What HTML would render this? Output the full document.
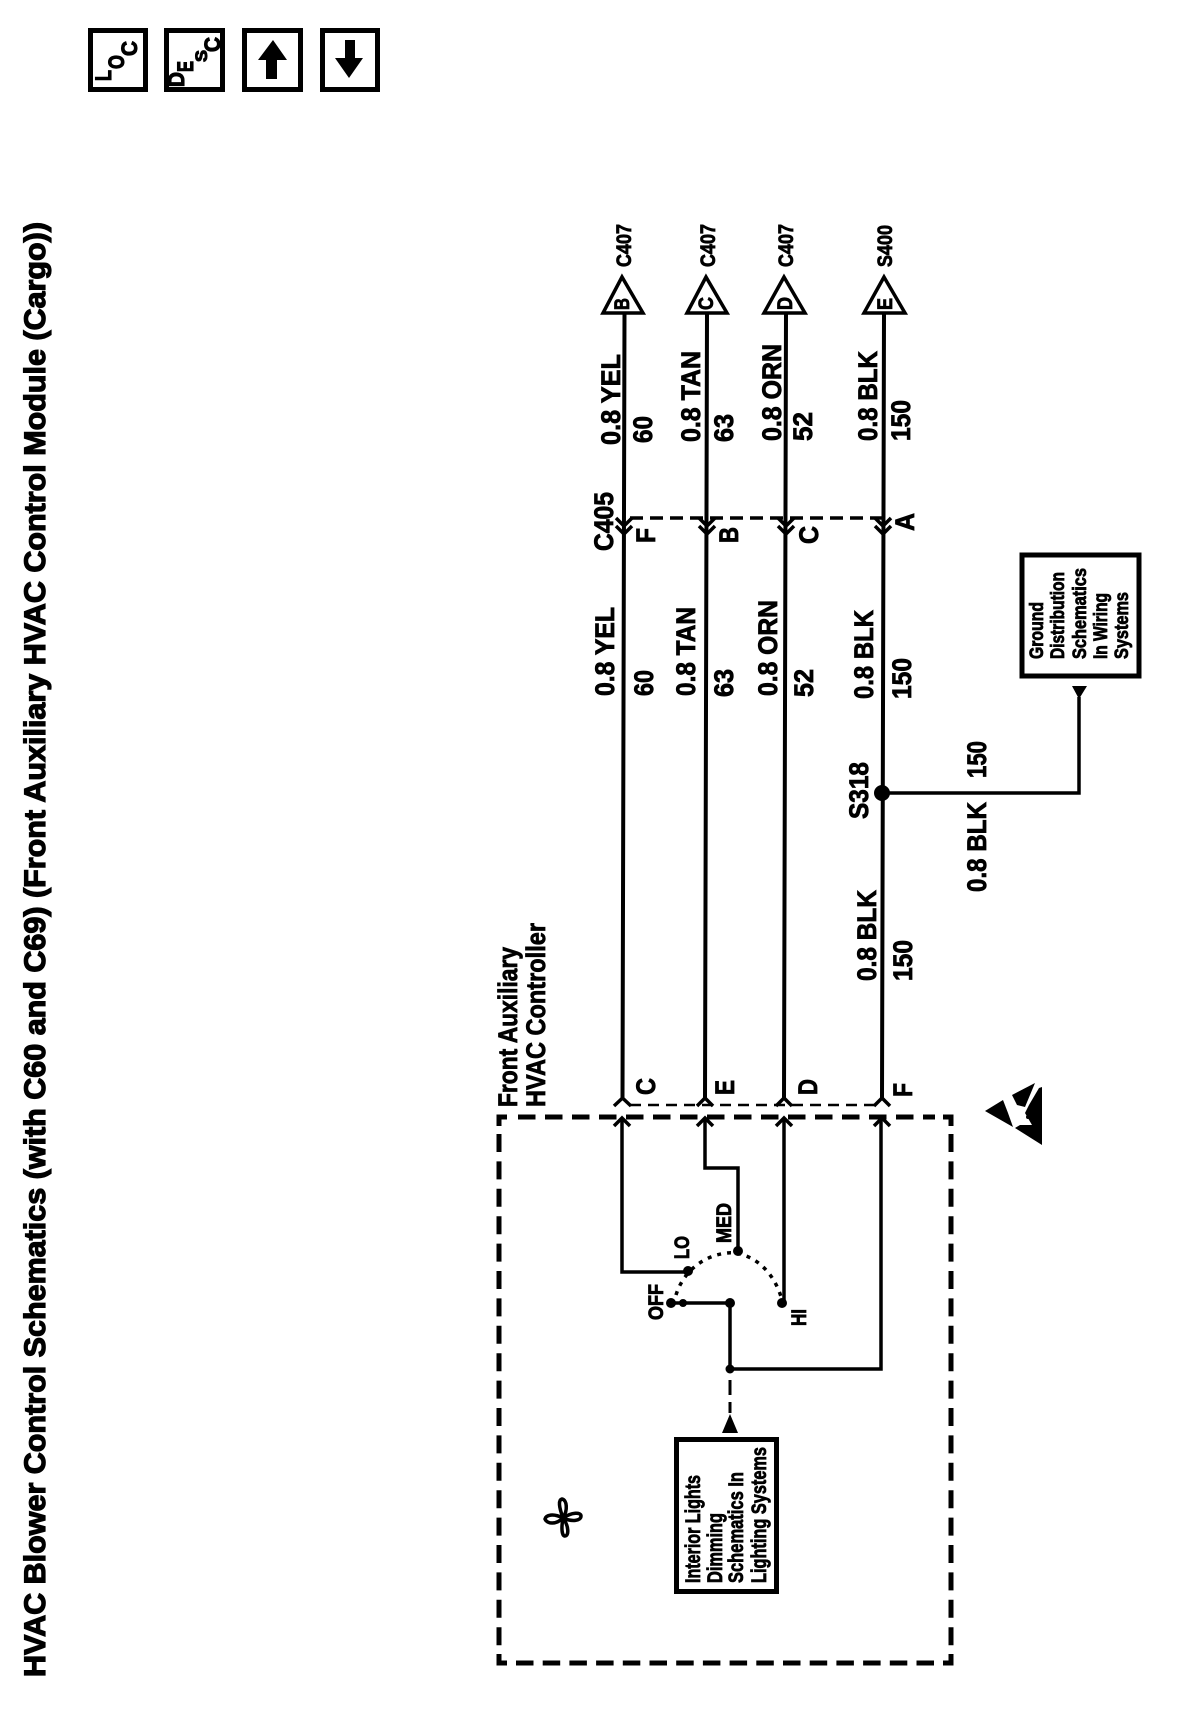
<!DOCTYPE html>
<html><head><meta charset="utf-8"><style>
html,body{margin:0;padding:0;background:#fff}
svg{display:block}
text{font-family:"Liberation Sans",sans-serif;font-weight:bold;fill:#000;stroke:#000;stroke-width:.8}
.l{font-size:27px}.m{font-size:26px}.s{font-size:21px}.xs{font-size:19px}.t{font-size:30px;stroke-width:1.2}
.ic{font-size:22px;stroke-width:1.1}
.w{stroke:#000;fill:none;stroke-width:4}
.th{stroke:#000;fill:none;stroke-width:3.5}
.box{stroke:#000;fill:none;stroke-width:5}
.d{stroke:#000;fill:none;stroke-width:5;stroke-dasharray:17.5 9.5}
</style></head><body>
<svg width="1184" height="1716" viewBox="0 0 1184 1716" xmlns="http://www.w3.org/2000/svg">
<rect width="1184" height="1716" fill="#fff"/>

<!-- top icons -->
<rect class="box" x="90.500" y="30.500" width="55" height="59"/><rect class="box" x="166.500" y="30.500" width="56" height="59"/><rect class="box" x="244.500" y="30.500" width="56" height="59"/><rect class="box" x="322.500" y="30.500" width="55" height="59"/>
<text class="ic" transform="translate(111 81) rotate(-90)" textLength="11" lengthAdjust="spacingAndGlyphs">L</text>
<text class="ic" transform="translate(124 69) rotate(-90)" textLength="14" lengthAdjust="spacingAndGlyphs">O</text>
<text class="ic" transform="translate(137 56) rotate(-90)" textLength="15" lengthAdjust="spacingAndGlyphs">C</text>
<text class="ic" transform="translate(184 87) rotate(-90)" textLength="15" lengthAdjust="spacingAndGlyphs">D</text>
<text class="ic" transform="translate(193 72) rotate(-90)" textLength="11" lengthAdjust="spacingAndGlyphs">E</text>
<text class="ic" transform="translate(207 62) rotate(-90)" textLength="12" lengthAdjust="spacingAndGlyphs" style="font-size:17px">S</text>
<text class="ic" transform="translate(220 52) rotate(-90)" textLength="15" lengthAdjust="spacingAndGlyphs">C</text>
<polygon points="273,40 287,60 277,60 277,79 266,79 266,60 258,60"/>
<polygon points="349,78 335,58 345,58 345,40 355,40 355,58 363,58"/>

<!-- title -->
<text class="t" transform="translate(45 1677) rotate(-90)" textLength="1455" lengthAdjust="spacingAndGlyphs">HVAC Blower Control Schematics (with C60 and C69) (Front Auxiliary HVAC Control Module (Cargo))</text>

<!-- main wires -->
<path class="w" d="M624.500 313L622.500 1098M707 313L705 1098M786 313L784 1098M884 313L882 1098"/>

<!-- triangles -->
<polygon class="th" points="622,277 603,313 643,313"/>
<polygon class="th" points="706,277 687,313 727,313"/>
<polygon class="th" points="784,277 764,313 805,313"/>
<polygon class="th" points="884,277 864,313 905,313"/>
<text class="s" transform="translate(629 310) rotate(-90)" textLength="12" lengthAdjust="spacingAndGlyphs">B</text>
<text class="s" transform="translate(713 310) rotate(-90)" textLength="13" lengthAdjust="spacingAndGlyphs">C</text>
<text class="s" transform="translate(792 310) rotate(-90)" textLength="13" lengthAdjust="spacingAndGlyphs">D</text>
<text class="s" transform="translate(892 310) rotate(-90)" textLength="12" lengthAdjust="spacingAndGlyphs">E</text>
<text class="s" transform="translate(631 267) rotate(-90)" textLength="43" lengthAdjust="spacingAndGlyphs">C407</text>
<text class="s" transform="translate(715 267) rotate(-90)" textLength="43" lengthAdjust="spacingAndGlyphs">C407</text>
<text class="s" transform="translate(793 267) rotate(-90)" textLength="43" lengthAdjust="spacingAndGlyphs">C407</text>
<text class="s" transform="translate(892 267) rotate(-90)" textLength="42" lengthAdjust="spacingAndGlyphs">S400</text>

<!-- upper labels -->
<text class="l" transform="translate(620 445) rotate(-90)" textLength="91" lengthAdjust="spacingAndGlyphs">0.8 YEL</text>
<text class="l" transform="translate(652 443) rotate(-90)" textLength="27" lengthAdjust="spacingAndGlyphs">60</text>
<text class="l" transform="translate(700 442) rotate(-90)" textLength="91" lengthAdjust="spacingAndGlyphs">0.8 TAN</text>
<text class="l" transform="translate(733 442) rotate(-90)" textLength="28" lengthAdjust="spacingAndGlyphs">63</text>
<text class="l" transform="translate(781 441) rotate(-90)" textLength="97" lengthAdjust="spacingAndGlyphs">0.8 ORN</text>
<text class="l" transform="translate(812 441) rotate(-90)" textLength="29" lengthAdjust="spacingAndGlyphs">52</text>
<text class="l" transform="translate(877 441) rotate(-90)" textLength="90" lengthAdjust="spacingAndGlyphs">0.8 BLK</text>
<text class="l" transform="translate(910 441) rotate(-90)" textLength="41" lengthAdjust="spacingAndGlyphs">150</text>

<!-- C405 -->
<path d="M630 518H890" stroke="#000" stroke-width="3.500" fill="none" stroke-dasharray="13 7"/>
<path class="th" d="M616 518L624 526L632 518M616 526L624 534L632 526M699 518L707 526L715 518M699 526L707 534L715 526M778 518L786 526L794 518M778 526L786 534L794 526M875 518L883 526L891 518M875 526L883 534L891 526"/>
<text class="l" transform="translate(613 551) rotate(-90)" textLength="59" lengthAdjust="spacingAndGlyphs">C405</text>
<text class="l" transform="translate(655 543) rotate(-90)" textLength="15" lengthAdjust="spacingAndGlyphs">F</text>
<text class="l" transform="translate(738 543) rotate(-90)" textLength="16" lengthAdjust="spacingAndGlyphs">B</text>
<text class="l" transform="translate(818 544) rotate(-90)" textLength="18" lengthAdjust="spacingAndGlyphs">C</text>
<text class="l" transform="translate(914 531) rotate(-90)" textLength="18" lengthAdjust="spacingAndGlyphs">A</text>

<!-- middle labels -->
<text class="l" transform="translate(614 696) rotate(-90)" textLength="89" lengthAdjust="spacingAndGlyphs">0.8 YEL</text>
<text class="l" transform="translate(653 696) rotate(-90)" textLength="26" lengthAdjust="spacingAndGlyphs">60</text>
<text class="l" transform="translate(695 696) rotate(-90)" textLength="89" lengthAdjust="spacingAndGlyphs">0.8 TAN</text>
<text class="l" transform="translate(733 697) rotate(-90)" textLength="28" lengthAdjust="spacingAndGlyphs">63</text>
<text class="l" transform="translate(777 696) rotate(-90)" textLength="96" lengthAdjust="spacingAndGlyphs">0.8 ORN</text>
<text class="l" transform="translate(813 697) rotate(-90)" textLength="28" lengthAdjust="spacingAndGlyphs">52</text>
<text class="l" transform="translate(873 699) rotate(-90)" textLength="89" lengthAdjust="spacingAndGlyphs">0.8 BLK</text>
<text class="l" transform="translate(911 699) rotate(-90)" textLength="41" lengthAdjust="spacingAndGlyphs">150</text>

<!-- splice -->
<circle cx="882" cy="793" r="8"/>
<path class="th" d="M882 793H1079V697"/>
<polygon points="1072,686 1087,686 1079,699"/>
<text class="l" transform="translate(868 819) rotate(-90)" textLength="57" lengthAdjust="spacingAndGlyphs">S318</text>
<text class="l" transform="translate(986 778) rotate(-90)" textLength="37" lengthAdjust="spacingAndGlyphs">150</text>
<text class="l" transform="translate(986 892) rotate(-90)" textLength="90" lengthAdjust="spacingAndGlyphs">0.8 BLK</text>
<text class="l" transform="translate(876 981) rotate(-90)" textLength="91" lengthAdjust="spacingAndGlyphs">0.8 BLK</text>
<text class="l" transform="translate(912 981) rotate(-90)" textLength="41" lengthAdjust="spacingAndGlyphs">150</text>

<!-- ground box -->
<rect class="box" x="1022" y="555" width="117" height="121"/>
<text class="xs" transform="translate(1043 659) rotate(-90)" textLength="57" lengthAdjust="spacingAndGlyphs">Ground</text>
<text class="xs" transform="translate(1064 659) rotate(-90)" textLength="87" lengthAdjust="spacingAndGlyphs">Distribution</text>
<text class="xs" transform="translate(1086 659) rotate(-90)" textLength="91" lengthAdjust="spacingAndGlyphs">Schematics</text>
<text class="xs" transform="translate(1107 659) rotate(-90)" textLength="66" lengthAdjust="spacingAndGlyphs">In Wiring</text>
<text class="xs" transform="translate(1128 659) rotate(-90)" textLength="67" lengthAdjust="spacingAndGlyphs">Systems</text>

<!-- controller box -->
<path class="d" d="M518 1117H935"/>
<path class="d" d="M516 1663H940" style="stroke-dasharray:17.500 9.200"/>
<path class="d" d="M499 1134V1650" style="stroke-dasharray:18 9.400"/>
<path class="d" d="M951 1134V1650" style="stroke-dasharray:18 9.400"/>
<path class="box" d="M507 1117H499V1126M943 1117H951V1126M499 1654V1663H507M943 1663H951V1654"/>

<!-- controller connector -->
<path d="M630 1105H875" stroke="#000" stroke-width="2.500" fill="none" stroke-dasharray="11 7"/>
<path class="th" d="M614 1106L622.500 1098L631 1106M697 1106L705 1098L713 1106M776 1106L784 1098L792 1106M874 1106L882 1098L890 1106"/>
<path class="th" d="M614 1126L622 1118L630 1126M697 1126L705 1118L713 1126M776 1126L784 1118L792 1126M874 1126L882 1118L890 1126"/>
<text class="l" transform="translate(655 1095) rotate(-90)" textLength="17" lengthAdjust="spacingAndGlyphs">C</text>
<text class="l" transform="translate(734 1095) rotate(-90)" textLength="15" lengthAdjust="spacingAndGlyphs">E</text>
<text class="l" transform="translate(817 1095) rotate(-90)" textLength="16" lengthAdjust="spacingAndGlyphs">D</text>
<text class="l" transform="translate(912 1097) rotate(-90)" textLength="14" lengthAdjust="spacingAndGlyphs">F</text>
<text class="l" transform="translate(517 1107) rotate(-90)" textLength="160" lengthAdjust="spacingAndGlyphs">Front Auxiliary</text>
<text class="l" transform="translate(545 1107) rotate(-90)" textLength="184" lengthAdjust="spacingAndGlyphs">HVAC Controller</text>

<!-- internal wiring -->
<path class="w" d="M622 1118V1272H688M705 1118V1168H738V1251M784 1118V1303M730 1303V1369H881V1118M671 1303H730" style="stroke-width:3.500"/>
<path d="M676 1295C682 1275 700 1256 727 1253C745 1251 772 1264 782 1300" stroke="#000" stroke-width="3.500" fill="none" stroke-dasharray="4 6"/>
<circle cx="738" cy="1251" r="5"/><circle cx="688" cy="1271" r="5"/><circle cx="782" cy="1303" r="5"/><circle cx="671" cy="1303" r="5"/><circle cx="683" cy="1303" r="4"/><circle cx="730" cy="1303" r="5"/><circle cx="730" cy="1369" r="4.500"/>
<path d="M730 1380V1413" stroke="#000" stroke-width="3" stroke-dasharray="15 7" fill="none"/>
<polygon points="730,1414 722,1433 738,1433"/>
<text class="s" transform="translate(663 1320) rotate(-90)" textLength="36" lengthAdjust="spacingAndGlyphs">OFF</text>
<text class="s" transform="translate(689 1259) rotate(-90)" textLength="23" lengthAdjust="spacingAndGlyphs">LO</text>
<text class="s" transform="translate(731 1243) rotate(-90)" textLength="40" lengthAdjust="spacingAndGlyphs">MED</text>
<text class="s" transform="translate(806 1326) rotate(-90)" textLength="17" lengthAdjust="spacingAndGlyphs">HI</text>

<!-- lights box -->
<rect class="box" x="676.500" y="1439.500" width="100" height="152"/>
<text class="s" transform="translate(700 1583) rotate(-90)" textLength="108" lengthAdjust="spacingAndGlyphs">Interior Lights</text>
<text class="s" transform="translate(722 1583) rotate(-90)" textLength="70" lengthAdjust="spacingAndGlyphs">Dimming</text>
<text class="s" transform="translate(743 1583) rotate(-90)" textLength="111" lengthAdjust="spacingAndGlyphs">Schematics In</text>
<text class="s" transform="translate(766 1583) rotate(-90)" textLength="136" lengthAdjust="spacingAndGlyphs">Lighting Systems</text>

<!-- fan -->
<g fill="#fff" stroke="#000" stroke-width="3.500">
<path d="M563 1518C553 1513 546 1515 545 1519C547 1524 556 1525 563 1518Z"/>
<path d="M563 1518C559 1507 558 1500 562 1499C567 1500 568 1510 563 1518Z"/>
<path d="M563 1518C572 1512 581 1512 581 1516C581 1521 572 1522 563 1518Z"/>
<path d="M563 1518C561 1529 562 1536 565 1536C569 1536 569 1526 563 1518Z"/>
</g>

<!-- ESD -->
<polygon points="985,1111 1003,1100 1008,1113 1013,1127"/>
<polygon points="1012,1095 1035,1083 1025,1107 1017,1105"/>
<polygon points="1039,1088 1042,1087 1042,1145 1015,1128 1020,1125 1032,1125 1025,1113 1029,1105"/>
<circle cx="1028" cy="1117" r="2" fill="#000"/>
</svg>
</body></html>
